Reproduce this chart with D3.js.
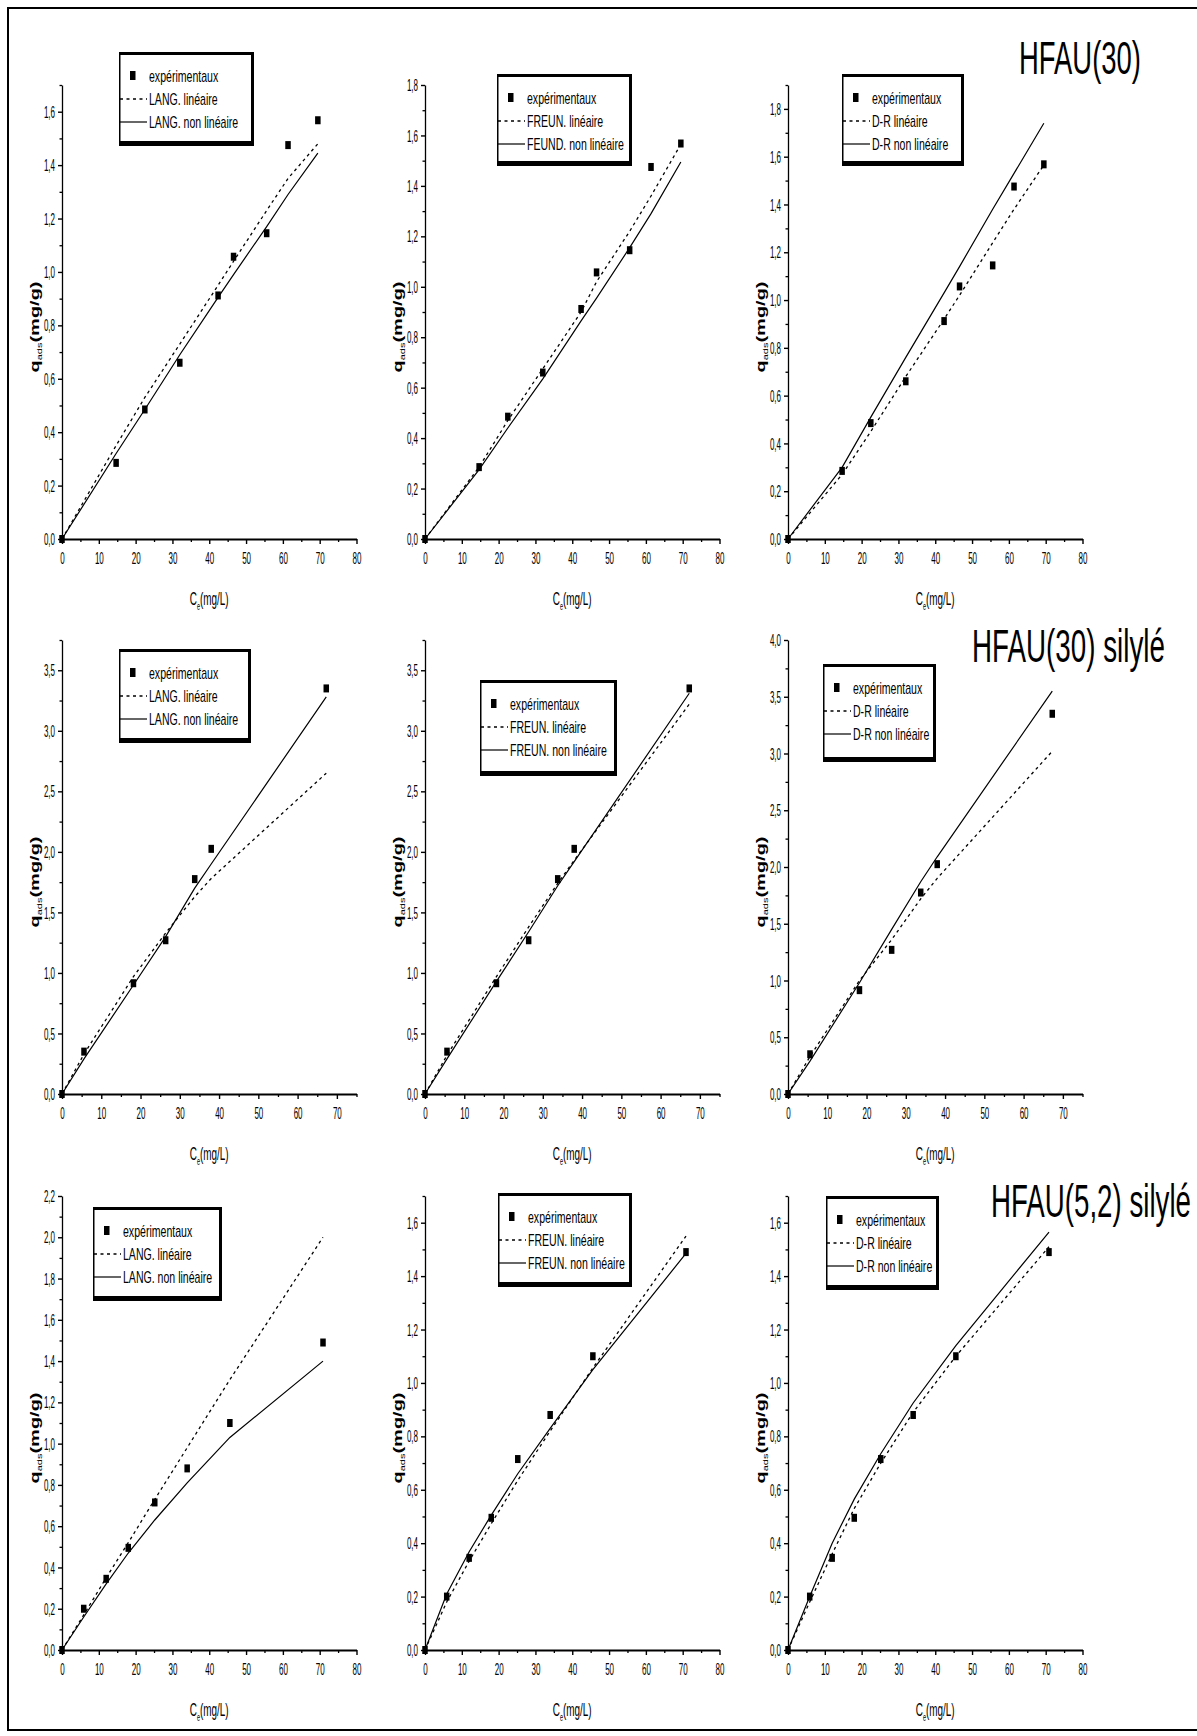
<!DOCTYPE html>
<html>
<head>
<meta charset="utf-8">
<script src="https://cdn.jsdelivr.net/npm/d3@7"></script>
<style>
  body { margin: 0; background: #fff; }
  svg { display: block; }
  text { font-family: "Liberation Sans", Arial, sans-serif; fill: #000; }
</style>
</head>
<body>
<svg id="fig" width="1197" height="1736"></svg>
<script>
// ---------- HFAU(30) ----------
const ceA       = [0, 14.7, 22.5, 32.0, 42.4, 46.6, 55.6, 61.4, 69.5];
const qA        = [0, 0.285, 0.485, 0.66, 0.912, 1.057, 1.145, 1.475, 1.568];
const langLinA  = [0, 0.35, 0.53, 0.73, 0.95, 1.04, 1.23, 1.35, 1.48];
const langNonA  = [0, 0.32, 0.485, 0.69, 0.905, 0.99, 1.17, 1.29, 1.445];
const freunLinA = [0, 0.285, 0.47, 0.675, 0.90, 1.02, 1.22, 1.36, 1.565];
const freunNonA = [0, 0.275, 0.44, 0.635, 0.865, 0.955, 1.155, 1.29, 1.495];
const drLinA    = [0, 0.27, 0.45, 0.68, 0.92, 1.02, 1.24, 1.38, 1.565];
const drNonA    = [0, 0.30, 0.51, 0.76, 1.03, 1.14, 1.38, 1.53, 1.74];

// ---------- HFAU(30) silylé ----------
const ceB       = [0, 5.6, 18.2, 26.4, 33.8, 38.0, 67.3];
const qB        = [0, 0.35, 0.915, 1.27, 1.775, 2.025, 3.35];
const langLinB  = [0, 0.33, 0.97, 1.33, 1.63, 1.78, 2.65];
const langNonB  = [0, 0.29, 0.90, 1.30, 1.70, 1.90, 3.28];
const freunLinB = [0, 0.32, 0.97, 1.38, 1.74, 1.93, 3.22];
const freunNonB = [0, 0.29, 0.93, 1.34, 1.72, 1.92, 3.31];
const drLinB    = [0, 0.33, 1.00, 1.36, 1.72, 1.90, 3.02];
const drNonB    = [0, 0.29, 0.98, 1.45, 1.87, 2.09, 3.55];

// ---------- HFAU(5,2) silylé ----------
const ceC       = [0, 5.9, 12.0, 18.0, 25.2, 34.0, 45.6, 70.9];
const qC        = [0, 0.20, 0.345, 0.495, 0.715, 0.88, 1.10, 1.49];
const langLinC  = [0, 0.17, 0.35, 0.52, 0.73, 0.98, 1.31, 2.00];
const langNonC  = [0, 0.16, 0.32, 0.47, 0.63, 0.81, 1.03, 1.40];
const freunLinC = [0, 0.18, 0.333, 0.473, 0.635, 0.82, 1.056, 1.55];
const freunNonC = [0, 0.21, 0.368, 0.505, 0.66, 0.83, 1.05, 1.485];
const drLinC    = [0, 0.18, 0.36, 0.53, 0.70, 0.89, 1.10, 1.51];
const drNonC    = [0, 0.20, 0.40, 0.565, 0.735, 0.925, 1.14, 1.565];

// ---------- tick values ----------
const xTicks80 = [0, 10, 20, 30, 40, 50, 60, 70, 80];
const xTicks75 = [0, 10, 20, 30, 40, 50, 60, 70];
const yTicks16 = [0, 0.2, 0.4, 0.6, 0.8, 1.0, 1.2, 1.4, 1.6];
const yTicks18 = [0, 0.2, 0.4, 0.6, 0.8, 1.0, 1.2, 1.4, 1.6, 1.8];
const yTicks22 = [0, 0.2, 0.4, 0.6, 0.8, 1.0, 1.2, 1.4, 1.6, 1.8, 2.0, 2.2];
const yTicks35 = [0, 0.5, 1.0, 1.5, 2.0, 2.5, 3.0, 3.5];
const yTicks40 = [0, 0.5, 1.0, 1.5, 2.0, 2.5, 3.0, 3.5, 4.0];

// ---------- legend labels ----------
const legendLang   = ["expérimentaux", "LANG. linéaire", "LANG. non linéaire"];
const legendFreunA = ["expérimentaux", "FREUN. linéaire", "FEUND. non linéaire"];
const legendFreun  = ["expérimentaux", "FREUN. linéaire", "FREUN. non linéaire"];
const legendDR     = ["expérimentaux", "D-R linéaire", "D-R non linéaire"];

const sampleTitles = ["HFAU(30)", "HFAU(30) silylé", "HFAU(5,2) silylé"];

// ---------- layout ----------
const colX = [62, 425, 788];
const rowTop = [85, 640, 1196];
const plotW = 294.5, plotH = 454;

const panels = [
  { col: 0, row: 0, ce: ceA, q: qA, lin: langLinA,  non: langNonA,  xMax: 80, xt: xTicks80, yMax: 1.7,  yt: yTicks16, ym: 0.1,  leg: legendLang,   lb: [119, 52, 135, 94] },
  { col: 1, row: 0, ce: ceA, q: qA, lin: freunLinA, non: freunNonA, xMax: 80, xt: xTicks80, yMax: 1.8,  yt: yTicks18, ym: 0.1,  leg: legendFreunA, lb: [497, 74, 135, 92] },
  { col: 2, row: 0, ce: ceA, q: qA, lin: drLinA,    non: drNonA,    xMax: 80, xt: xTicks80, yMax: 1.9,  yt: yTicks18, ym: 0.1,  leg: legendDR,     lb: [842, 74, 122, 92] },
  { col: 0, row: 1, ce: ceB, q: qB, lin: langLinB,  non: langNonB,  xMax: 75, xt: xTicks75, yMax: 3.75, yt: yTicks35, ym: 0.25, leg: legendLang,   lb: [119, 649, 132, 94] },
  { col: 1, row: 1, ce: ceB, q: qB, lin: freunLinB, non: freunNonB, xMax: 75, xt: xTicks75, yMax: 3.75, yt: yTicks35, ym: 0.25, leg: legendFreun,  lb: [480, 680, 137, 96] },
  { col: 2, row: 1, ce: ceB, q: qB, lin: drLinB,    non: drNonB,    xMax: 75, xt: xTicks75, yMax: 4.0,  yt: yTicks40, ym: 0.25, leg: legendDR,     lb: [823, 664, 113, 98] },
  { col: 0, row: 2, ce: ceC, q: qC, lin: langLinC,  non: langNonC,  xMax: 80, xt: xTicks80, yMax: 2.2,  yt: yTicks22, ym: 0.1,  leg: legendLang,   lb: [93, 1207, 129, 94] },
  { col: 1, row: 2, ce: ceC, q: qC, lin: freunLinC, non: freunNonC, xMax: 80, xt: xTicks80, yMax: 1.7,  yt: yTicks16, ym: 0.1,  leg: legendFreun,  lb: [498, 1193, 134, 94] },
  { col: 2, row: 2, ce: ceC, q: qC, lin: drLinC,    non: drNonC,    xMax: 80, xt: xTicks80, yMax: 1.7,  yt: yTicks16, ym: 0.1,  leg: legendDR,     lb: [826, 1196, 113, 94] }
];

const titleLayout = [
  { x: 1019, y: 74,   len: 122 },
  { x: 972,  y: 662,  len: 193 },
  { x: 991,  y: 1217, len: 200 }
];

const svg = d3.select("#fig");
const NARROW = 0.5;
const comma = d => d3.format(".1f")(d).replace(".", ",");

// outer frame (its right side falls beyond the page)
svg.append("rect").attr("x", 8).attr("y", 8).attr("width", 1200).attr("height", 1722)
  .attr("fill", "none").attr("stroke", "#000").attr("stroke-width", 2);

panels.forEach(p => {
  const left = colX[p.col], top = rowTop[p.row];
  const g = svg.append("g").attr("transform", `translate(${left},${top})`);
  const x = d3.scaleLinear().domain([0, p.xMax]).range([0, plotW]);
  const y = d3.scaleLinear().domain([0, p.yMax]).range([plotH, 0]);

  // minor ticks
  const xMinor = d3.range(5, p.xMax + 0.01, 10);
  const yMinor = d3.range(p.ym, p.yMax + 1e-6, p.ym * 2);
  g.append("g").attr("transform", `translate(0,${plotH})`)
    .call(d3.axisBottom(x).tickValues(xMinor).tickSize(3).tickSizeOuter(0).tickFormat(""))
    .call(a => a.select(".domain").remove())
    .selectAll("line").attr("stroke-width", 1.3);
  g.append("g")
    .call(d3.axisLeft(y).tickValues(yMinor).tickSize(2.5).tickSizeOuter(0).tickFormat(""))
    .call(a => a.select(".domain").remove())
    .selectAll("line").attr("stroke-width", 1.3);

  // major axes
  const xa = g.append("g").attr("transform", `translate(0,${plotH})`)
    .call(d3.axisBottom(x).tickValues(p.xt).tickSize(5).tickSizeOuter(0).tickFormat(d3.format("d")));
  xa.select(".domain").attr("stroke-width", 2);
  xa.selectAll("line").attr("stroke-width", 1.4);
  xa.selectAll("text").attr("y", null).attr("dy", null)
    .attr("transform", `translate(0,25) scale(${NARROW},1)`)
    .attr("font-size", 16).attr("font-family", "Liberation Sans, Arial, sans-serif");

  const ya = g.append("g")
    .call(d3.axisLeft(y).tickValues(p.yt).tickSize(4).tickSizeOuter(0).tickFormat(comma));
  ya.select(".domain").attr("stroke-width", 1.3);
  ya.selectAll("line").attr("stroke-width", 1.4);
  ya.selectAll("text").attr("x", null).attr("dy", "0.35em")
    .attr("transform", `translate(-7,0) scale(${NARROW},1)`)
    .attr("font-size", 16).attr("font-family", "Liberation Sans, Arial, sans-serif");

  // axis titles
  const xl = g.append("text")
    .attr("transform", `translate(${plotW / 2},${plotH + 66}) scale(0.55,1)`)
    .attr("text-anchor", "middle").attr("font-size", 18);
  xl.append("tspan").text("C");
  xl.append("tspan").attr("font-size", 10).attr("dy", 5).text("e");
  xl.append("tspan").attr("dy", -5).text("(mg/L)");

  const yl = g.append("text")
    .attr("transform", `translate(-27,${plotH / 2 + 15}) scale(0.6,1) rotate(-90)`)
    .attr("text-anchor", "middle").attr("font-size", 20).attr("font-weight", "bold").attr("dy", "0.35em");
  yl.append("tspan").text("q");
  yl.append("tspan").attr("font-size", 11).attr("font-weight", "normal").attr("dy", 4).text("ads");
  yl.append("tspan").attr("dy", -4).text("(mg/g)");

  // fitted curves
  const line = d3.line().x(d => x(d[0])).y(d => y(d[1]));
  g.append("path").datum(p.ce.map((c, i) => [c, p.lin[i]]))
    .attr("d", line).attr("fill", "none").attr("stroke", "#000")
    .attr("stroke-width", 1.3).attr("stroke-dasharray", "3,3.5");
  g.append("path").datum(p.ce.map((c, i) => [c, p.non[i]]))
    .attr("d", line).attr("fill", "none").attr("stroke", "#000")
    .attr("stroke-width", 1.2);

  // experimental points
  g.selectAll("rect.pt").data(p.ce.map((c, i) => [c, p.q[i]])).enter()
    .append("rect").attr("class", "pt")
    .attr("x", d => x(d[0]) - 2.75).attr("y", d => y(d[1]) - 4)
    .attr("width", 5.5).attr("height", 8).attr("fill", "#000");

  // legend box with heavier bottom/right edge
  const [lx, ly, lw, lh] = p.lb;
  const L = svg.append("g").attr("transform", `translate(${lx},${ly})`);
  L.append("rect").attr("width", lw).attr("height", lh).attr("fill", "#fff");
  L.append("rect").attr("width", lw).attr("height", 3).attr("fill", "#000");
  L.append("rect").attr("y", lh - 5).attr("width", lw).attr("height", 5).attr("fill", "#000");
  L.append("rect").attr("width", 1.5).attr("height", lh).attr("fill", "#000");
  L.append("rect").attr("x", lw - 3).attr("width", 3).attr("height", lh).attr("fill", "#000");
  const rows = [24, 47, 70];
  L.append("rect").attr("x", 11).attr("y", rows[0] - 5).attr("width", 5.5).attr("height", 9).attr("fill", "#000");
  L.append("line").attr("x1", 1).attr("x2", 28).attr("y1", rows[1]).attr("y2", rows[1])
    .attr("stroke", "#000").attr("stroke-width", 1.3).attr("stroke-dasharray", "3,3.5");
  L.append("line").attr("x1", 1).attr("x2", 28).attr("y1", rows[2]).attr("y2", rows[2])
    .attr("stroke", "#000").attr("stroke-width", 1.2);
  p.leg.forEach((t, i) => {
    L.append("text").attr("transform", `translate(30,${rows[i]}) scale(0.66,1)`)
      .attr("dy", "0.35em").attr("font-size", 16).text(t);
  });
});

// sample names, condensed to their set widths
sampleTitles.forEach((t, i) => {
  const s = titleLayout[i];
  const tx = svg.append("text").attr("font-size", 47).text(t);
  const natural = tx.node().getComputedTextLength();
  tx.attr("transform", `translate(${s.x},${s.y}) scale(${s.len / natural},1)`);
});
</script>
</body>
</html>
